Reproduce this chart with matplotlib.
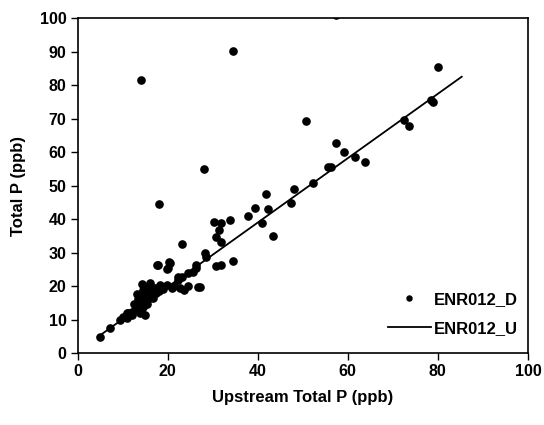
import matplotlib
matplotlib.use("Agg")
import matplotlib.pyplot as plt

# downstream total P vs upstream total P (ppb)
down_x = [
    5.0, 7.3, 9.5, 10.1, 10.9, 11.3, 11.8, 12.0, 12.0, 12.7, 13.0, 13.5,
    13.8, 13.8, 14.0, 14.2, 14.4, 14.6, 14.6, 14.9, 15.0, 15.3, 15.5, 15.7,
    16.1, 16.1, 16.5, 16.8, 17.2, 17.5, 18.0, 18.3, 19.0, 19.8, 20.9, 21.5,
    22.3, 22.3, 22.7, 23.1, 23.7, 24.5, 24.5, 25.6, 26.4, 26.8, 27.3, 17.9,
    20.5, 20.1, 17.7, 20.3, 19.8, 26.4, 28.2, 28.5, 23.2, 30.3, 31.9, 33.9,
    31.3, 30.7, 31.9, 34.5, 30.8, 31.8, 37.8, 39.5, 42.3, 40.9, 43.5, 41.9,
    48.0, 47.4, 52.2, 55.7, 56.2, 57.4, 59.1, 61.7, 63.8, 50.8, 72.5, 73.5,
    79.0, 78.4, 80.1, 18.0, 28.0, 14.2, 34.5, 57.4, 12.5, 13.2, 15.0, 16.0,
    14.0, 11.0,
]
down_y = [
    4.9, 7.4, 10.0, 10.8, 10.4, 11.9, 12.0, 12.3, 11.3, 12.8, 13.5, 16.0,
    11.8, 14.8, 15.5, 16.8, 20.6, 13.8, 18.8, 11.3, 17.0, 15.8, 14.5, 17.8,
    20.8, 16.3, 19.0, 16.5, 19.3, 17.8, 18.5, 20.3, 19.0, 20.3, 19.3, 20.0,
    21.8, 22.6, 19.3, 22.8, 18.8, 23.8, 20.0, 24.3, 25.3, 19.8, 19.6, 26.3,
    26.8, 25.3, 26.3, 27.3, 25.0, 26.3, 29.9, 28.6, 32.4, 39.2, 38.7, 39.7,
    36.7, 34.7, 33.2, 27.5, 26.0, 26.3, 40.9, 43.4, 42.9, 38.7, 34.9, 47.4,
    48.9, 44.7, 50.8, 55.4, 55.6, 62.8, 60.1, 58.4, 57.1, 69.3, 69.6, 67.8,
    75.0, 75.4, 85.3, 44.5, 54.8, 81.5, 90.2, 100.9, 14.5, 17.5, 19.5, 18.0,
    12.5, 11.8,
]

# upstream reference line
up_x = [4.5, 85.3]
up_y = [4.8, 82.5]

x_ticks = [0, 20, 40, 60, 80, 100]
y_ticks = [0, 10, 20, 30, 40, 50, 60, 70, 80, 90, 100]

plt.rcParams["font.family"] = ["Liberation Sans", "DejaVu Sans"]
plt.rcParams["font.weight"] = "bold"

fig = plt.figure(figsize=(5.44, 4.25), dpi=100)
ax = fig.add_axes([0.1425, 0.1694, 0.828, 0.788])

ax.plot(down_x, down_y, "o", color="black", markersize=5.2, label="ENR012_D")
ax.plot(up_x, up_y, "-", color="black", linewidth=1.3, label="ENR012_U")

ax.set_xlim(0, 100)
ax.set_ylim(0, 100)
ax.set_xticks(x_ticks)
ax.set_yticks(y_ticks)
ax.tick_params(direction="out", length=5, width=1, labelsize=11.5, pad=3)
for lbl in ax.get_xticklabels() + ax.get_yticklabels():
    lbl.set_fontweight("bold")
for spine in ax.spines.values():
    spine.set_linewidth(1.2)

ax.set_xlabel("Upstream Total P (ppb)", fontsize=12, fontweight="bold", labelpad=8)
ax.set_ylabel("Total P (ppb)", fontsize=12, fontweight="bold", labelpad=10)

leg = ax.legend(loc="lower right", bbox_to_anchor=(1.01, 0.005), frameon=False,
                fontsize=12, markerscale=0.7, handlelength=2.6,
                handletextpad=0.15, labelspacing=0.85)
for t in leg.get_texts():
    t.set_fontweight("bold")

fig.savefig("out.png", dpi=100)
